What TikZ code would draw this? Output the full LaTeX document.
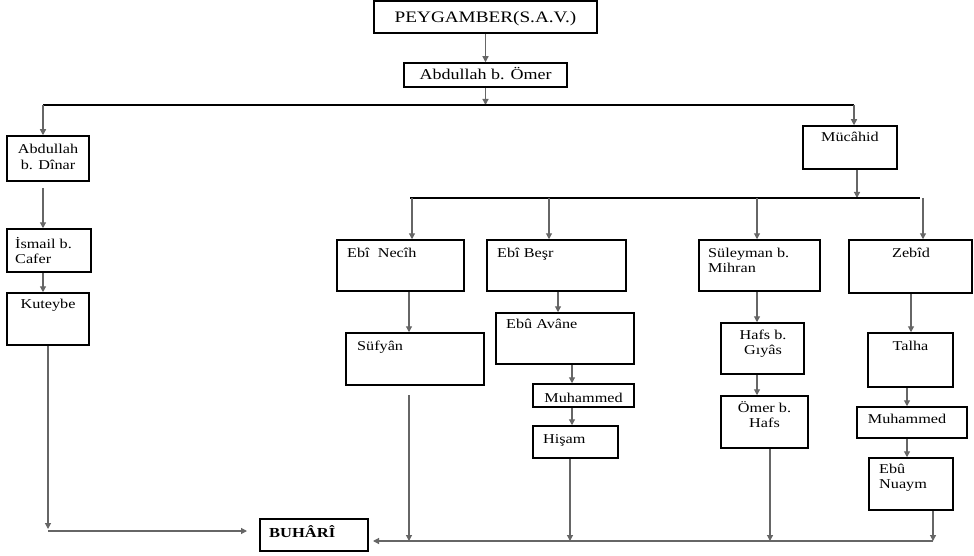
\documentclass[tikz,border=0pt]{standalone}
\usepackage{fontspec}
\setmainfont{Liberation Serif}[FakeStretch=1.2]
\usetikzlibrary{arrows.meta}
\newcommand{\ltab}[1]{\begin{tabular}[t]{@{}l@{}}#1\end{tabular}}
\newcommand{\ctab}[1]{\begin{tabular}[t]{@{}c@{}}#1\end{tabular}}
\newcommand{\mkbox}[5]{\node[box, minimum width={#4-#2}, minimum height={#5-#3}] (#1) at ({(#2+#4)/2},{(#3+#5)/2}) {};}
\begin{document}
\begin{tikzpicture}[x=1pt,y=-1pt,
  box/.style={draw, line width=1.5pt, inner sep=0pt, rectangle},
  txt/.style={inner sep=0pt, font=\fontsize{13.5}{15.5}\selectfont},
  con/.style={line width=1.2pt, black!60, -{Triangle[length=6pt,width=6pt]}},
  barline/.style={line width=1.5pt, black}]
\useasboundingbox[fill=white] (0,0) rectangle (974,556);

% boxes
\mkbox{peyg}{374}{1}{597}{33}
\mkbox{abom}{404}{63}{567}{87}
\mkbox{abdinar}{7}{136}{89}{181}
\mkbox{ismail}{7}{229}{91}{272}
\mkbox{kuteybe}{7}{293}{89}{345}
\mkbox{buhari}{260}{519}{368}{551}
\mkbox{mucahid}{803}{126}{897}{169}
\mkbox{necih}{337}{240}{464}{291}
\mkbox{besr}{487}{240}{626}{291}
\mkbox{suleyman}{699}{240}{820}{291}
\mkbox{zebid}{849}{240}{972}{293}
\mkbox{sufyan}{346}{333}{484}{385}
\mkbox{avane}{496}{313}{634}{364}
\mkbox{muhA}{533}{384}{634}{407}
\mkbox{hisam}{533}{426}{618}{458}
\mkbox{hafs}{721}{323}{804}{374}
\mkbox{omer}{721}{396}{808}{448}
\mkbox{talha}{868}{333}{953}{387}
\mkbox{muhB}{857}{407}{967}{438}
\mkbox{nuaym}{869}{458}{953}{510}

% texts
\node[txt, font=\fontsize{16}{19}\selectfont, anchor=base] (peyg-t) at (485.5,23) {PEYGAMBER(S.A.V.)};
\node[txt, font=\fontsize{15}{18}\selectfont, anchor=base] (abom-t) at (485.5,80) {Abdullah b. Ömer};
\node[txt, anchor=base] (abdinar-t) at (48,154) {\ctab{Abdullah\\b. Dînar}};
\node[txt, anchor=base west] (ismail-t) at (15,248) {\ltab{İsmail b.\\Cafer}};
\node[txt, anchor=base] (kuteybe-t) at (48,308) {Kuteybe};
\node[txt, font=\fontsize{13.75}{16}\selectfont\bfseries, anchor=base west] (buhari-t) at (269,537) {BUHÂRÎ};
\node[txt, anchor=base] (mucahid-t) at (850,142) {Mücâhid};
\node[txt, anchor=base west] (necih-t) at (347,257) {Ebî\ \ Necîh};
\node[txt, anchor=base west] (besr-t) at (497,257) {Ebî Beşr};
\node[txt, anchor=base west] (suleyman-t) at (708,257) {\ltab{Süleyman b.\\Mihran}};
\node[txt, anchor=base] (zebid-t) at (911,257) {Zebîd};
\node[txt, anchor=base west] (sufyan-t) at (357,350) {Süfyân};
\node[txt, anchor=base west] (avane-t) at (506,328) {Ebû Avâne};
\node[txt, anchor=base] (muhA-t) at (583.5,402) {Muhammed};
\node[txt, anchor=base west] (hisam-t) at (543,443) {Hişam};
\node[txt, anchor=base] (hafs-t) at (763,339) {\ctab{Hafs b.\\Gıyâs}};
\node[txt, anchor=base] (omer-t) at (764.5,412) {\ctab{Ömer b.\\Hafs}};
\node[txt, anchor=base] (talha-t) at (910.5,350) {Talha};
\node[txt, anchor=base] (muhB-t) at (907,423) {Muhammed};
\node[txt, anchor=base west] (nuaym-t) at (879,473) {\ltab{Ebû\\Nuaym}};

% coordinates
\coordinate (b1L) at (43,105);
\coordinate (b1R) at (854,105);
\coordinate (b1M) at (485.5,105);
\coordinate (b2L) at (410,198);
\coordinate (b2R) at (920,198);
\coordinate (b2M) at (857,198);
\coordinate (zt) at (923,198);
\coordinate (nt) at (412,198);
\coordinate (bt) at (549,198);
\coordinate (st) at (757,198);
\coordinate (ad1) at (43,188);
\coordinate (kc) at (48,529);
\coordinate (kh) at (48,531);
\coordinate (kend) at (247,531);
\coordinate (botR) at (933,541);
\coordinate (botL) at (373,541);
\coordinate (s1) at (409,395);
\coordinate (xa) at (558,0);
\coordinate (xm) at (572,0);
\coordinate (xh) at (570,0);
\coordinate (xo) at (770,0);
\coordinate (xt) at (911,0);
\coordinate (xu) at (907,0);

% connectors
\draw[con] (peyg.south) -- (abom.north);
\draw[con] (abom.south) -- (b1M);
\draw[barline] (b1L) -- (b1R);
\draw[con] (b1L) -- (b1L |- abdinar.north);
\draw[con] (b1R) -- (b1R |- mucahid.north);
\draw[con] (ad1) -- (ad1 |- ismail.north);
\draw[con] (ismail.south -| ad1) -- (kuteybe.north -| ad1);
\draw[con] (kuteybe.south) -- (kc);
\draw[con] (kh) -- (kend);

\draw[con] (b2M |- mucahid.south) -- (b2M);
\draw[barline] (b2L) -- (b2R);
\draw[con] (nt) -- (nt |- necih.north);
\draw[con] (bt) -- (bt |- besr.north);
\draw[con] (st) -- (st |- suleyman.north);
\draw[con] (zt) -- (zt |- zebid.north);

\draw[con] (necih.south -| s1) -- (sufyan.north -| s1);
\draw[con] (s1) -- (s1 |- botR);

\draw[con] (besr.south -| xa) -- (avane.north -| xa);
\draw[con] (avane.south -| xm) -- (muhA.north -| xm);
\draw[con] (muhA.south -| xm) -- (hisam.north -| xm);
\draw[con] (hisam.south -| xh) -- (xh |- botR);

\draw[con] (suleyman.south -| st) -- (hafs.north -| st);
\draw[con] (hafs.south -| st) -- (omer.north -| st);
\draw[con] (omer.south -| xo) -- (xo |- botR);

\draw[con] (zebid.south -| xt) -- (talha.north -| xt);
\draw[con] (talha.south -| xu) -- (muhB.north -| xu);
\draw[con] (muhB.south -| xu) -- (nuaym.north -| xu);
\draw[con] (nuaym.south -| botR) -- (botR);

\draw[con] (botR) -- (botL);
\end{tikzpicture}
\end{document}
